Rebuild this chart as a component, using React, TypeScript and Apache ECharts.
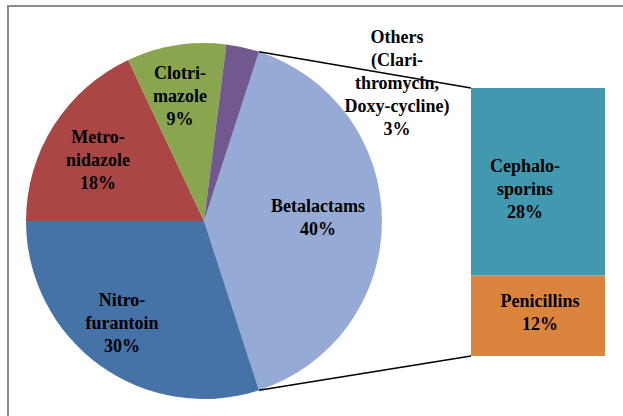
import React, { useEffect, useRef } from "react";
import * as echarts from "echarts";

const pieNames = ["Betalactams", "Nitrofurantoin", "Metronidazole", "Clotrimazole", "Others"];
const pieLabels = [
  "Betalactams\n40%",
  "Nitro-\nfurantoin\n30%",
  "Metro-\nnidazole\n18%",
  "Clotri-\nmazole\n9%",
  "Others\n(Clari-\nthromycin,\nDoxy-cycline)\n3%",
];
const pieValues = [40, 30, 18, 9, 3];
const pieColors = ["#95abd5", "#4572a7", "#aa4643", "#89a54e", "#71588f"];

const barNames = ["Penicillins", "Cephalosporins"];
const barLabels = ["Penicillins\n12%", "Cephalo-\nsporins\n28%"];
const barValues = [12, 28];
const barColors = ["#db843d", "#4198af"];

export default function App() {
  const ref = useRef<HTMLDivElement>(null);
  useEffect(() => {
    if (!ref.current) return;
    const chart = echarts.init(ref.current, null, { renderer: "svg" });
    const cx = 204, cy = 221, r = 178;
    const total = pieValues.reduce((a, b) => a + b, 0);
    const half = (pieValues[0] / total) * Math.PI;
    const px = cx + r * Math.cos(half);
    const pyTop = cy - r * Math.sin(half);
    const pyBot = cy + r * Math.sin(half);
    const gLeft = 471, gTop = 88, gW = 134, gH = 268;
    const pieLabelPos: [number, number][] = [
      [318, 217],
      [122, 323],
      [98, 160],
      [180, 96],
      [397, 83],
    ];
    chart.setOption({
      animation: false,
      grid: { left: gLeft, top: gTop, width: gW, height: gH },
      xAxis: { type: "category", data: ["Betalactams"], show: false },
      yAxis: { type: "value", min: 0, max: pieValues[0], show: false },
      series: [
        {
          type: "pie",
          center: [cx, cy],
          radius: r,
          startAngle: (half * 180) / Math.PI,
          clockwise: true,
          silent: true,
          itemStyle: { borderWidth: 0 },
          label: { show: false },
          labelLine: { show: false },
          data: pieNames.map((n, i) => ({
            name: n,
            value: pieValues[i],
            itemStyle: { color: pieColors[i] },
          })),
        },
        ...barNames.map((n, i) => ({
          type: "bar",
          name: n,
          stack: "s",
          barWidth: "100%",
          silent: true,
          itemStyle: { color: barColors[i] },
          label: { show: false },
          data: [barValues[i]],
        })),
      ],
    });
    // bar label centres from the chart's own scale
    const pen = chart.convertToPixel({ gridIndex: 0 }, [0, barValues[0] / 2]) as number[];
    const cep = chart.convertToPixel({ gridIndex: 0 }, [0, barValues[0] + barValues[1] / 2]) as number[];
    const barLabelPos: [number, number][] = [
      [pen[0] + 2, pen[1] - 3],
      [cep[0] - 13, cep[1] + 7],
    ];
    const mkText = (text: string, x: number, y: number) => ({
      type: "text",
      x,
      y,
      silent: true,
      z: 20,
      style: {
        text,
        fontFamily: "Liberation Serif",
        fontWeight: "bold",
        fontSize: 18,
        lineHeight: 23,
        fill: "#000",
        align: "center",
        verticalAlign: "middle",
      },
    });
    chart.setOption({
      graphic: [
        {
          type: "rect",
          shape: { x: 8, y: 6, width: 800, height: 600 },
          style: { fill: "none", stroke: "#8c8c8c", lineWidth: 2 },
          silent: true,
        },
        {
          type: "line",
          shape: { x1: px, y1: pyTop, x2: gLeft, y2: gTop },
          style: { stroke: "#000", lineWidth: 1.5 },
          silent: true,
          z: 10,
        },
        {
          type: "line",
          shape: { x1: px, y1: pyBot, x2: gLeft, y2: gTop + gH },
          style: { stroke: "#000", lineWidth: 1.5 },
          silent: true,
          z: 10,
        },
        ...pieLabels.map((t, i) => mkText(t, pieLabelPos[i][0], pieLabelPos[i][1])),
        ...barLabels.map((t, i) => mkText(t, barLabelPos[i][0], barLabelPos[i][1])),
      ],
    });
    return () => chart.dispose();
  }, []);
  return (
    <div
      ref={ref}
      style={{ position: "absolute", left: 0, top: 0, width: 623, height: 416 }}
    />
  );
}
